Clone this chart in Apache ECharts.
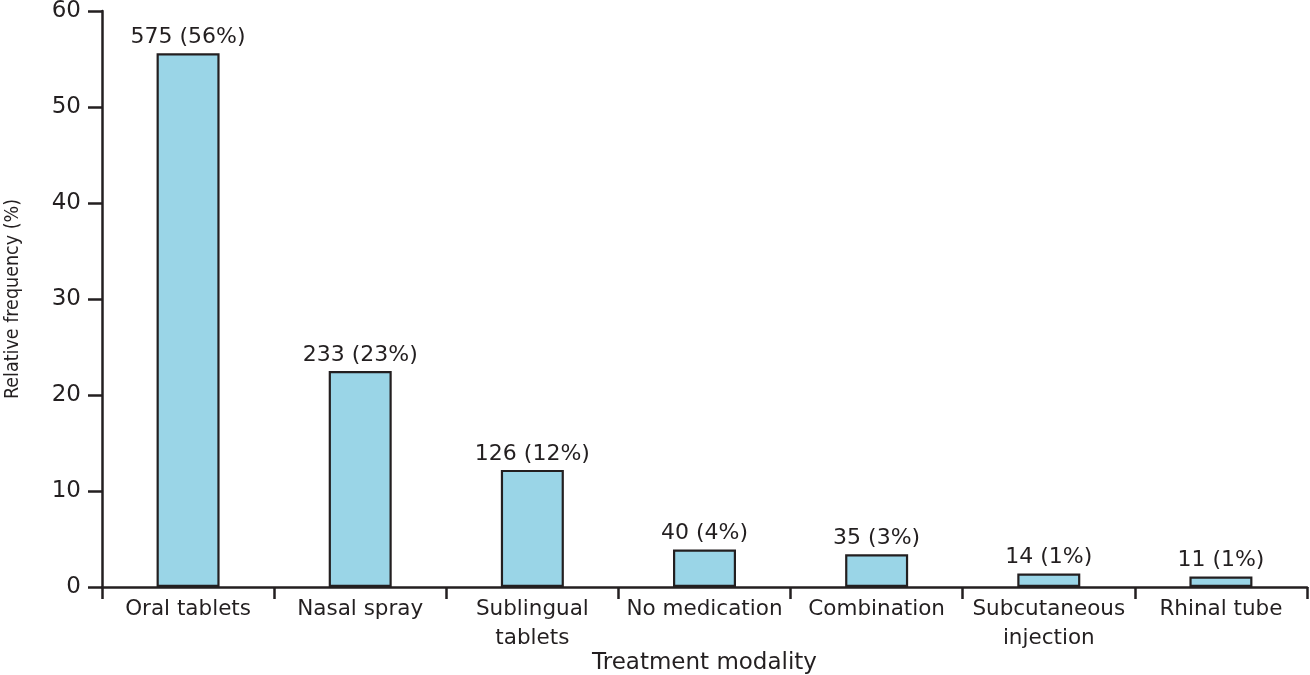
<!DOCTYPE html>
<html>
<head>
<meta charset="utf-8">
<script src="https://cdn.jsdelivr.net/npm/echarts@6/dist/echarts.min.js"></script>
<style>html,body{margin:0;padding:0;background:#fff}#c{width:1310px;height:675px}</style>
</head>
<body>
<div id="c"></div>
<script>
const categories = ['Oral tablets', 'Nasal spray', 'Sublingual\ntablets', 'No medication', 'Combination', 'Subcutaneous\ninjection', 'Rhinal tube'];
const counts = [575, 233, 126, 40, 35, 14, 11];
const percentLabels = ['56%', '23%', '12%', '4%', '3%', '1%', '1%'];
const relFreq = [55.6, 22.5, 12.2, 3.9, 3.4, 1.4, 1.1];
const yTicks = [0, 10, 20, 30, 40, 50, 60];

const FONT = '"DejaVu Sans", "Open Sans", sans-serif';
const INK = '#231f20';
const chart = echarts.init(document.getElementById('c'));
chart.setOption({
  animation: false,
  grid: { left: 102, right: 3, top: 11, bottom: 88, containLabel: false, outerBoundsMode: 'none' },
  xAxis: {
    type: 'category',
    data: categories,
    name: 'Treatment modality',
    nameLocation: 'middle',
    nameGap: 65,
    nameMoveOverlap: false,
    nameTextStyle: { color: INK, fontSize: 23, fontFamily: FONT },
    axisLine: { lineStyle: { color: INK, width: 2.5 } },
    axisTick: { show: true, length: 12, lineStyle: { color: INK, width: 2.5 } },
    axisLabel: { color: INK, fontSize: 21.5, fontFamily: FONT, margin: 8, lineHeight: 29, interval: 0 }
  },
  yAxis: {
    type: 'value',
    min: yTicks[0],
    max: yTicks[yTicks.length - 1],
    interval: 10,
    name: 'Relative frequency (%)',
    nameLocation: 'middle',
    nameGap: 79,
    nameMoveOverlap: false,
    nameRotate: 90,
    nameTextStyle: { color: INK, fontSize: 19.5, fontFamily: '"Liberation Sans Narrow", "DejaVu Sans Condensed", sans-serif' },
    axisLine: { show: true, lineStyle: { color: INK, width: 2.5 } },
    axisTick: { show: true, length: 14, lineStyle: { color: INK, width: 2.5 } },
    axisLabel: { color: INK, fontSize: 23, fontFamily: FONT, margin: 21 },
    splitLine: { show: false }
  },
  series: [{
    type: 'bar',
    data: relFreq,
    barWidth: 63,
    itemStyle: { color: '#9ad5e7', borderColor: INK, borderWidth: 2.2 },
    label: {
      show: true,
      position: 'top',
      distance: 5,
      color: INK,
      fontSize: 22,
      fontFamily: FONT,
      formatter: p => counts[p.dataIndex] + ' (' + percentLabels[p.dataIndex] + ')'
    }
  }]
});
</script>
</body>
</html>
